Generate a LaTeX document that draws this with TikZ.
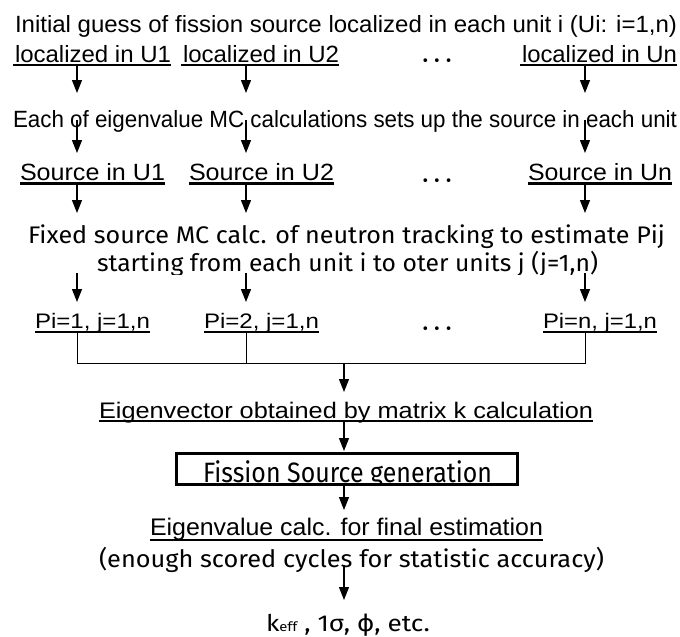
\documentclass[tikz,border=0pt]{standalone}
\usepackage{fontspec}
\usepackage{graphicx}
\setmainfont{Liberation Sans}
\newfontfamily\hvy{Fira Sans}
\newfontfamily\dotfont{DejaVu Sans}
\usetikzlibrary{arrows.meta,calc}
% set a text at a given width, keeping its natural height
\newcommand\fw[2]{\resizebox{#1}{\height}{#2}}

\begin{document}
\begin{tikzpicture}[x=1pt,y=-1pt,
  txt/.style={inner sep=0pt, outer sep=0pt, anchor=base west},
  lt/.style={txt, font=\fontsize{23.5}{23.5}\selectfont},
  hv/.style={txt, font=\hvy\fontsize{24}{24}\selectfont},
  dots/.style={inner sep=0pt, font=\dotfont\fontsize{13}{13}\selectfont},
  arr/.style={-{Triangle[length=13pt,width=10pt]}, line width=1.2pt},
  ul/.style={line width=2.5pt},
  thinul/.style={line width=1.2pt},
  link/.style={line width=1pt},
  boxline/.style={draw, line width=2.7pt, inner sep=0pt}]
\useasboundingbox (0,0) rectangle (680,637);

% --- initial guess
\node[lt] (init) at (15,32) {\fw{662pt}{Initial guess of fission source localized in each unit i (Ui: i=1,n)}};
\node[lt] (lu1) at (15,62) {\fw{156pt}{localized in U1}};
\node[lt] (lu2) at (183,62) {\fw{156pt}{localized in U2}};
\node[lt] (lun) at (522,62) {\fw{155pt}{localized in Un}};
\node[dots] (d1) at (437,62) {\fw{31pt}{• • •}};
\foreach \n in {lu1,lu2,lun}
  \draw[ul] ($(\n.base west)+(-2,3)$) -- ($(\n.base east)+(0,3)$);

% --- eigenvalue calculations per unit
\node[lt] (eachunit) at (13,127) {\fw{664pt}{Each of eigenvalue MC calculations sets up the source in each unit}};
\node[lt] (su1) at (20,180) {\fw{145pt}{Source in U1}};
\node[lt] (su2) at (189,180) {\fw{145pt}{Source in U2}};
\node[lt] (sun) at (528,180) {\fw{144pt}{Source in Un}};
\node[dots] (d2) at (437,182) {\fw{31pt}{• • •}};
\foreach \n in {su1,su2,sun}
  \draw[ul] ($(\n.base west)+(0,3.5)$) -- ($(\n.base east)+(0,3.5)$);

% --- fixed source calculation
\node[hv] (fixed) at (28,243) {\fw{637pt}{Fixed source MC calc. of neutron tracking to estimate Pij}};
\begin{scope}
  \clip (0,250) rectangle (680,274.5);
  \node[hv] (start) at (97,271) {\fw{501pt}{starting from each unit i to oter units j (j=1,n)}};
\end{scope}

\node[lt,font=\fontsize{21}{21}\selectfont] (pi1) at (35,328) {\fw{115pt}{Pi=1, j=1,n}};
\node[lt,font=\fontsize{21}{21}\selectfont] (pi2) at (204,328) {\fw{115pt}{Pi=2, j=1,n}};
\node[lt,font=\fontsize{21}{21}\selectfont] (pin) at (543,328) {\fw{114pt}{Pi=n, j=1,n}};
\node[dots] (d3) at (437,330) {\fw{31pt}{• • •}};
\foreach \n in {pi1,pi2,pin}
  \draw[ul] ($(\n.base west)+(0,4)$) -- ($(\n.base east)+(0,4)$);

% --- matrix k
\node[lt,font=\fontsize{22.5}{22.5}\selectfont] (eigvec) at (99,418) {\fw{494pt}{Eigenvector obtained by matrix k calculation}};
\draw[thinul] ($(eigvec.base west)+(0,3)$) -- ($(eigvec.base east)+(0,3)$);

% --- fission source generation
\begin{scope}
  \clip (175,452) rectangle (516,484);
  \node[hv,font=\hvy\fontsize{28}{28}\selectfont] (fsg) at (203,482) {\fw{289pt}{Fission Source generation}};
\end{scope}
\node[boxline, anchor=north west, minimum width=341pt, minimum height=31pt] (fsbox) at (175,452) {};

% --- final estimation
\node[lt,font=\fontsize{24}{24}\selectfont] (eigval) at (150,535) {\fw{393pt}{Eigenvalue calc. for final estimation}};
\draw[ul,line width=2pt] ($(eigval.base west)+(0,5)$) -- ($(eigval.base east)+(0,5)$);
\node[hv] (enough) at (99,567) {\fw{505pt}{(enough scored cycles for statistic accuracy)}};
\node[hv,font=\hvy\fontsize{23}{23}\selectfont] (keff) at (266,631) {\fw{164pt}{k{\fontsize{13}{13}\selectfont eff} , 1σ, {\dotfont ϕ}, etc.}};

% --- connector end points (columns at x = 77, 246, 585; centre 344)
\coordinate (a1) at (77,65);   \coordinate (b1) at (77,93);
\coordinate (a2) at (246,65);  \coordinate (b2) at (246,93);
\coordinate (a3) at (585,65);  \coordinate (b3) at (585,93);
\coordinate (e1) at (77,120);  \coordinate (f1) at (77,153);
\coordinate (e2) at (246,120); \coordinate (f2) at (246,153);
\coordinate (e3) at (585,120); \coordinate (f3) at (585,153);
\coordinate (g1) at (77,184);  \coordinate (h1) at (77,213);
\coordinate (g2) at (246,184); \coordinate (h2) at (246,213);
\coordinate (g3) at (585,184); \coordinate (h3) at (585,213);
\coordinate (k1) at (77,273);  \coordinate (m1) at (77,302);
\coordinate (k2) at (246,273); \coordinate (m2) at (246,302);
\coordinate (k3) at (585,273); \coordinate (m3) at (585,302);
\coordinate (p1) at (77,333);  \coordinate (p2) at (246,333); \coordinate (p3) at (585,333);
\coordinate (merge) at (344,363);
\coordinate (vin) at (344,392);
\coordinate (vout) at (344,421);
\coordinate (fin) at (344,451);
\coordinate (bout) at (344,484);
\coordinate (ein) at (344,510);
\coordinate (eout) at (344,565);
\coordinate (kin) at (344,600);

% --- connectors
\foreach \i in {1,2,3} {
  \draw[arr] (a\i) -- (b\i);
  \draw[arr] (e\i) -- (f\i);
  \draw[arr] (g\i) -- (h\i);
  \draw[arr] (k\i) -- (m\i);
}
\draw[link] (p1) -- (p1 |- merge) -- (p3 |- merge) -- (p3);
\draw[link] (p2) -- (p2 |- merge);
\draw[arr] (merge) -- (vin);
\draw[arr] (vout) -- (fin);
\draw[arr] (bout) -- (ein);
\draw[arr] (eout) -- (kin);
\end{tikzpicture}
\end{document}
